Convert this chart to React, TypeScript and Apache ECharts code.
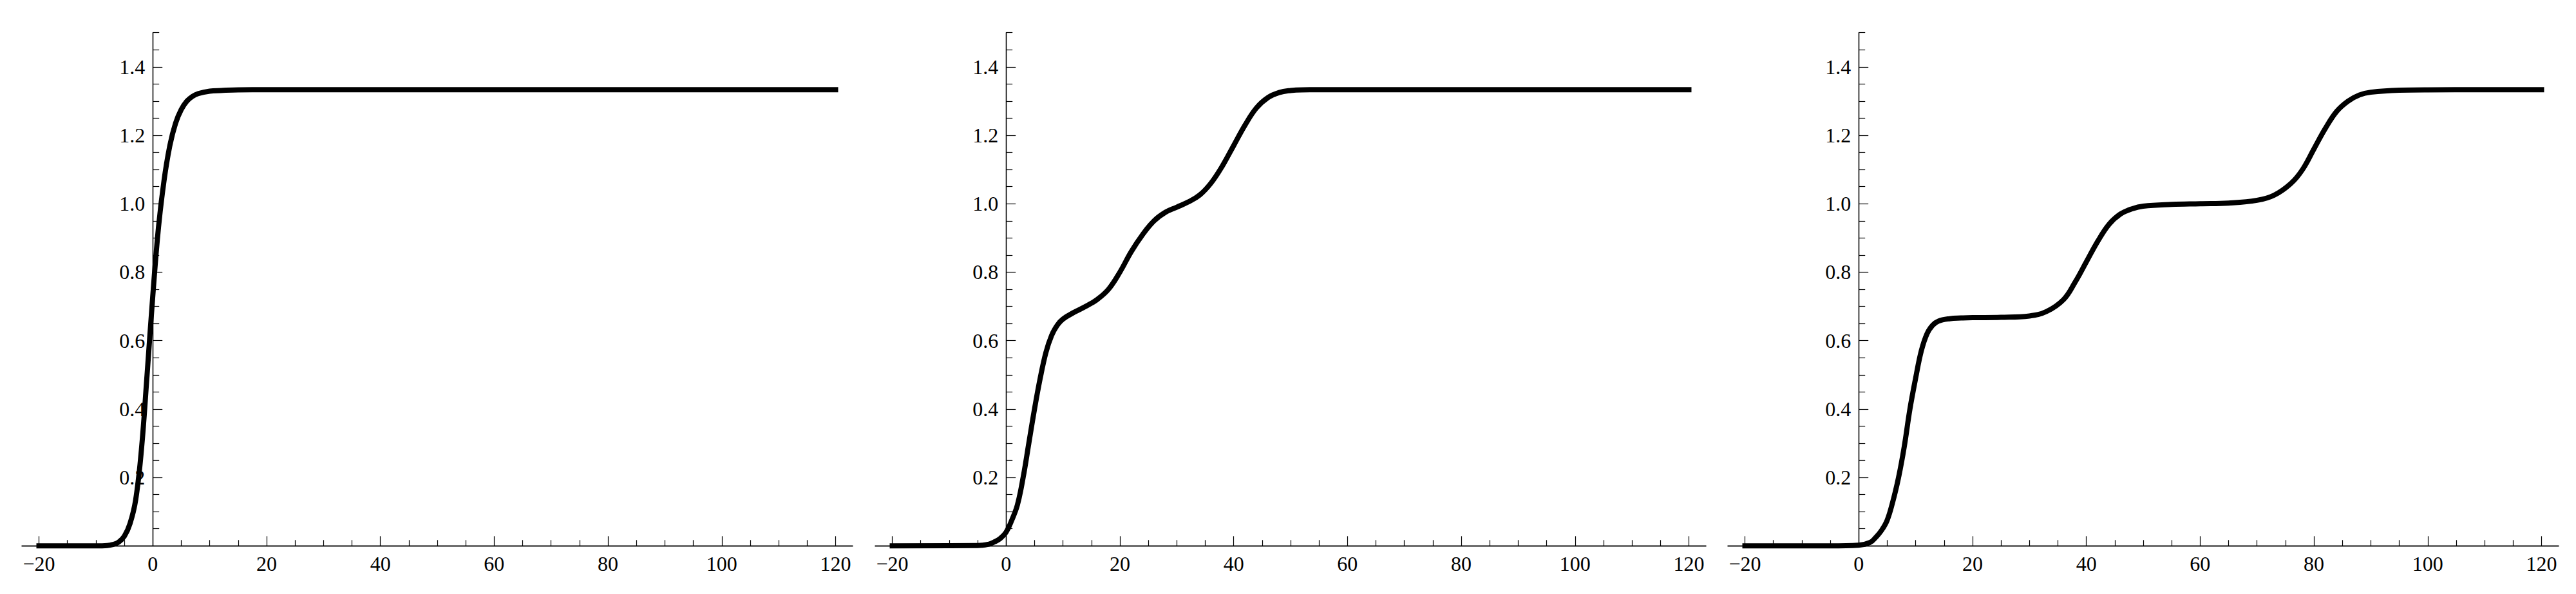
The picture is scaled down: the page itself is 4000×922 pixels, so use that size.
import React, { useEffect, useRef } from "react";
import * as echarts from "echarts";

// ---- axis ticks / labels ----
const xLabelValues = [-20, 0, 20, 40, 60, 80, 100, 120];
const xMajorTicks = [-20, 20, 40, 60, 80, 100, 120];
const xMinorTicks = [-15, -10, -5, 5, 10, 15, 25, 30, 35, 45, 50, 55, 65, 70, 75, 85, 90, 95, 105, 110, 115];
const yLabelValues = [0.2, 0.4, 0.6, 0.8, 1.0, 1.2, 1.4];
const yMinorTicks = [0.05, 0.1, 0.15, 0.25, 0.3, 0.35, 0.45, 0.5, 0.55, 0.65, 0.7, 0.75, 0.85, 0.9, 0.95, 1.05, 1.1, 1.15, 1.25, 1.3, 1.35, 1.45, 1.5];

// ---- panel 1 ----
const p1X = [-20, -10, -8, -7, -6, -5, -4, -3, -2, -1, 0, 1, 2, 3, 4, 5, 6, 7, 8, 10, 12, 15, 20, 40, 60, 80, 100, 120];
const p1Y = [0, 0, 0.001, 0.004, 0.011, 0.028, 0.065, 0.135, 0.28, 0.5, 0.73, 0.93, 1.07, 1.17, 1.235, 1.275, 1.3, 1.314, 1.322, 1.329, 1.331, 1.333, 1.3333, 1.3333, 1.3333, 1.3333, 1.3333, 1.3333];

// ---- panel 2 ----
const p2X = [-20, -5, -3, -2, -1, 0, 1, 2, 3, 4, 5, 6, 7, 8, 9, 10, 12, 14, 16, 18, 20, 22, 24, 26, 28, 30, 32, 34, 36, 38, 40, 42, 44, 46, 48, 50, 52, 55, 60, 80, 100, 120];
const p2Y = [0, 0.001, 0.005, 0.012, 0.022, 0.04, 0.075, 0.12, 0.2, 0.3, 0.4, 0.49, 0.565, 0.615, 0.645, 0.663, 0.683, 0.7, 0.72, 0.75, 0.8, 0.86, 0.91, 0.95, 0.975, 0.99, 1.005, 1.025, 1.06, 1.11, 1.17, 1.23, 1.28, 1.31, 1.325, 1.331, 1.333, 1.3333, 1.3333, 1.3333, 1.3333, 1.3333];

// ---- panel 3 ----
const p3X = [-20, -5, 0, 2, 3, 4, 5, 6, 7, 8, 9, 10, 11, 12, 13, 14, 16, 18, 20, 25, 30, 33, 36, 38, 40, 42, 44, 46, 48, 50, 55, 60, 65, 70, 73, 76, 78, 80, 82, 84, 86, 88, 90, 95, 100, 120];
const p3Y = [0, 0, 0.002, 0.01, 0.025, 0.045, 0.075, 0.13, 0.2, 0.29, 0.4, 0.49, 0.57, 0.62, 0.645, 0.657, 0.664, 0.666, 0.667, 0.668, 0.672, 0.685, 0.72, 0.77, 0.83, 0.89, 0.94, 0.97, 0.985, 0.993, 0.998, 1.0, 1.002, 1.01, 1.025, 1.06, 1.1, 1.16, 1.22, 1.27, 1.3, 1.318, 1.326, 1.332, 1.333, 1.3333];

const panels = [
  { xs: p1X, ys: p1Y, left: 26 },
  { xs: p2X, ys: p2Y, left: 1351 },
  { xs: p3X, ys: p3Y, left: 2675 },
];

const X_MIN = -23;
const X_MAX = 123;
const GRID_W = 1290;
const Y_OFFSET = -((0 - X_MIN) / (X_MAX - X_MIN)) * GRID_W; // move y axis to x = 0

const FONT = "'Liberation Serif', 'Times New Roman', serif";
const BLACK = "#000";

function fmtX(v: number) {
  return v < 0 ? "\u2212" + Math.abs(v) : String(v);
}

export default function App() {
  const ref = useRef<HTMLDivElement>(null);
  useEffect(() => {
    if (!ref.current) return;
    const chart = echarts.init(ref.current, undefined, { renderer: "svg" });
    const grid: any[] = [];
    const xAxis: any[] = [];
    const yAxis: any[] = [];
    const series: any[] = [];
    panels.forEach((p, i) => {
      grid.push({ left: p.left, top: 42.7, width: GRID_W, height: 796.6, containLabel: false });
      const xBase = {
        type: "value",
        gridIndex: i,
        min: X_MIN,
        max: X_MAX,
        position: "bottom",
        splitLine: { show: false },
        axisLine: { show: true, onZero: false, lineStyle: { color: BLACK, width: 1.3 } },
      };
      xAxis.push({
        ...xBase,
        axisTick: { show: true, inside: true, length: 15, customValues: xMajorTicks, lineStyle: { color: BLACK, width: 1.2 } },
        axisLabel: {
          show: true,
          customValues: xLabelValues,
          formatter: (v: number) => fmtX(v),
          fontFamily: FONT,
          fontSize: 32,
          color: BLACK,
          margin: 12,
        },
      });
      xAxis.push({
        ...xBase,
        axisTick: { show: true, inside: true, length: 9, customValues: xMinorTicks, lineStyle: { color: BLACK, width: 1.2 } },
        axisLabel: { show: false },
      });
      const yBase = {
        type: "value",
        gridIndex: i,
        min: 0,
        max: 1.5,
        position: "left",
        offset: Y_OFFSET,
        splitLine: { show: false },
        axisLine: { show: true, onZero: false, lineStyle: { color: BLACK, width: 1.3 } },
      };
      yAxis.push({
        ...yBase,
        axisTick: { show: true, inside: true, length: 15, customValues: yLabelValues, lineStyle: { color: BLACK, width: 1.2 } },
        axisLabel: {
          show: true,
          customValues: yLabelValues,
          formatter: (v: number) => v.toFixed(1),
          fontFamily: FONT,
          fontSize: 32,
          color: BLACK,
          margin: 12,
        },
      });
      yAxis.push({
        ...yBase,
        axisTick: { show: true, inside: true, length: 10, customValues: yMinorTicks, lineStyle: { color: BLACK, width: 1.2 } },
        axisLabel: { show: false },
      });
      series.push({
        type: "line",
        xAxisIndex: 2 * i,
        yAxisIndex: 2 * i,
        data: p.xs.map((x, k) => [x, p.ys[k]]),
        showSymbol: false,
        symbol: "none",
        smooth: 0.4,
        clip: false,
        silent: true,
        z: 5,
        lineStyle: { color: BLACK, width: 8, cap: "square", join: "round" },
      });
    });
    chart.setOption({
      animation: false,
      backgroundColor: "#fff",
      grid,
      xAxis,
      yAxis,
      series,
    });
    return () => chart.dispose();
  }, []);
  return <div ref={ref} style={{ width: 3984, height: 906 }} />;
}
